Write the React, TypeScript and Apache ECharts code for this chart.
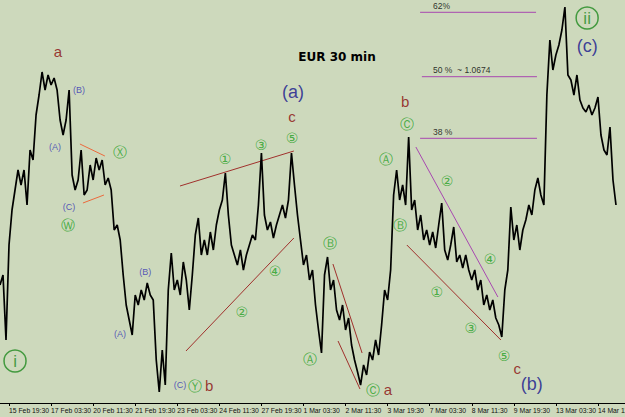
import React, { useEffect, useRef } from "react";
import * as echarts from "echarts";

// ---- data ----
const tickLabels = [
  "15 Feb 19:30", "17 Feb 03:30", "20 Feb 11:30", "21 Feb 19:30", "23 Feb 03:30",
  "24 Feb 11:30", "27 Feb 19:30", "1 Mar 03:30", "2 Mar 11:30", "3 Mar 19:30",
  "7 Mar 03:30", "8 Mar 11:30", "9 Mar 19:30", "13 Mar 03:30", "14 Mar 11:30",
];
const slotCount = 209;
const firstTickSlot = 3;
const slotsPerTick = 14;

const prices = [
  1.05705, 1.05755, 1.0543, 1.05905, 1.0608, 1.0618, 1.0628, 1.06205, 1.0628, 1.06105,
  1.0638, 1.0633, 1.06555, 1.06655, 1.0677, 1.0668, 1.06755, 1.06705, 1.0674, 1.0668,
  1.0653, 1.06455, 1.0653, 1.0668, 1.06255, 1.0618, 1.0623, 1.0638, 1.06155, 1.0618,
  1.06305, 1.0623, 1.0634, 1.0628, 1.0633, 1.06205, 1.0624, 1.0618, 1.0598, 1.06005,
  1.0593, 1.05755, 1.05605, 1.0553, 1.05455, 1.05655, 1.05605, 1.0568, 1.0563, 1.05715,
  1.05655, 1.0563, 1.0533, 1.0517, 1.0538, 1.05205, 1.0568, 1.05865, 1.0568, 1.0573,
  1.05655, 1.0582, 1.0573, 1.0558, 1.05755, 1.05955, 1.0604, 1.05855, 1.0593, 1.05855,
  1.0597, 1.0588, 1.06005, 1.0608, 1.0613, 1.06265, 1.06055, 1.05905, 1.05855, 1.05805,
  1.0588, 1.0578, 1.05855, 1.05905, 1.05955, 1.0593, 1.06105, 1.06365, 1.06055, 1.0598,
  1.0602, 1.0594, 1.06005, 1.06055, 1.06105, 1.0604, 1.0613, 1.06365, 1.06205, 1.06055,
  1.0593, 1.05805, 1.05855, 1.0573, 1.0578, 1.05605, 1.0548, 1.05365, 1.05755, 1.05845,
  1.0568, 1.0573, 1.0558, 1.0553, 1.05605, 1.0548, 1.0554, 1.05405, 1.0533, 1.0527,
  1.05205, 1.05305, 1.05255, 1.0537, 1.0533, 1.0543, 1.05355, 1.05505, 1.0568, 1.0563,
  1.0578, 1.06155, 1.0628, 1.0613, 1.06205, 1.06105, 1.06445, 1.0608, 1.0613, 1.0598,
  1.06055, 1.0593, 1.0598, 1.05905, 1.0597, 1.0589, 1.06005, 1.06115, 1.0588, 1.0583,
  1.05905, 1.05995, 1.0582, 1.05855, 1.0579, 1.05855, 1.0578, 1.0573, 1.0578, 1.0568,
  1.0573, 1.05605, 1.05655, 1.0558, 1.0563, 1.0554, 1.05505, 1.05445, 1.0568, 1.0578,
  1.06095, 1.0593, 1.06005, 1.0588, 1.0598, 1.0603, 1.06105, 1.06055, 1.0618, 1.0624,
  1.06155, 1.06105, 1.06655, 1.0693, 1.0678, 1.06855, 1.06905, 1.0698, 1.07095, 1.06755,
  1.0673, 1.06655, 1.06755, 1.0663, 1.0659, 1.0657, 1.06605, 1.06555, 1.0659, 1.06645,
  1.06455, 1.0638, 1.06355, 1.06495, 1.0623, 1.06105,
];

// annotations: [text, slot, price]
const minorWaves = [
  ["a", 19.3, 1.06875], ["b", 69.6, 1.05205], ["c", 97.2, 1.0655],
  ["a", 129.1, 1.05185], ["b", 134.8, 1.06625], ["c", 172.1, 1.0529],
];
const intermediateWaves = [
  ["(a)", 97.5, 1.0667], ["(b)", 177.0, 1.0521], ["(c)", 195.4, 1.069],
];
const subWaves = [
  ["(B)", 26.3, 1.0668], ["(A)", 18.3, 1.06395], ["(C)", 23.0, 1.06095],
  ["(B)", 48.3, 1.0577], ["(A)", 39.9, 1.0546], ["(C)", 59.9, 1.05205],
];
const circledWaves = [
  ["Ⓧ", 39.9, 1.0637], ["Ⓦ", 22.6, 1.06005], ["Ⓨ", 64.9, 1.052],
  ["①", 74.9, 1.06335], ["③", 86.9, 1.06405], ["⑤", 97.2, 1.0644],
  ["②", 80.5, 1.0557], ["④", 91.5, 1.05775],
  ["Ⓑ", 109.8, 1.05915], ["Ⓐ", 103.2, 1.05335], ["Ⓒ", 124.1, 1.0518],
  ["Ⓐ", 128.5, 1.06335], ["Ⓑ", 133.1, 1.06005], ["Ⓒ", 135.4, 1.0651],
  ["②", 148.8, 1.06225], ["④", 163.1, 1.05835], ["①", 145.4, 1.0567],
  ["③", 156.7, 1.0549], ["⑤", 167.7, 1.0535],
];
const primaryWaves = [
  ["i", 5.0, 1.05325], ["ii", 195.4, 1.0704],
];
const fibLevels = [
  ["62%", 139.8, 178.4, 1.070685, 1.071],
  ["50 %  ~ 1.0674", 140.4, 178.7, 1.067465, 1.0678],
  ["38 %", 139.8, 178.7, 1.064385, 1.0647],
];
const fibLabelSlot = 144.1;
// trend lines: [x1, p1, x2, p2, kind]
const trendLines = [
  [26.6, 1.0641, 34.9, 1.0635, "orange"],
  [27.6, 1.06115, 34.6, 1.06155, "orange"],
  [59.9, 1.062, 97.8, 1.06375, "red"],
  [61.9, 1.05375, 97.8, 1.0594, "red"],
  [110.8, 1.0581, 120.5, 1.05365, "red"],
  [112.5, 1.05425, 119.8, 1.05185, "red"],
  [138.4, 1.06395, 165.7, 1.05645, "purple"],
  [135.4, 1.05905, 166.7, 1.0543, "red"],
];

const lineColors: Record<string, string> = {
  orange: "#ec6a3c",
  red: "#a0302c",
  purple: "#a848b0",
};

function textSeries(items: any[], color: string, fontSize: number, fontFamily: string, extra: any = {}) {
  return {
    type: "scatter",
    xAxisIndex: 1,
    silent: true,
    symbolSize: 1,
    itemStyle: { color: "rgba(0,0,0,0)" },
    data: items.map((d) => ({ name: d[0], value: [d[1], d[2]] })),
    label: {
      show: true,
      position: "inside",
      formatter: "{b}",
      color,
      fontSize,
      fontFamily,
      ...extra,
    },
    z: 5,
  };
}

export default function App() {
  const ref = useRef<HTMLDivElement>(null);
  useEffect(() => {
    document.body.style.margin = "0";
    const chart = echarts.init(ref.current!, null, { renderer: "svg" });
    const categories = Array.from({ length: slotCount }, (_, i) => String(i));
    const showTick = (idx: number) => idx >= firstTickSlot && (idx - firstTickSlot) % slotsPerTick === 0;

    const series: any[] = [
      {
        type: "line",
        data: prices,
        symbol: "none",
        silent: true,
        lineStyle: { color: "#000", width: 1.7 },
        z: 3,
      },
    ];
    trendLines.forEach((t) => {
      series.push({
        type: "line",
        xAxisIndex: 1,
        silent: true,
        symbol: "none",
        data: [[t[0], t[1]], [t[2], t[3]]],
        lineStyle: { color: lineColors[t[4] as string], width: 1 },
        z: 2,
      });
    });
    fibLevels.forEach((f) => {
      series.push({
        type: "line",
        xAxisIndex: 1,
        silent: true,
        symbol: "none",
        data: [[f[1], f[3]], [f[2], f[3]]],
        lineStyle: { color: "#a848b0", width: 1 },
        z: 2,
      });
    });
    series.push(
      textSeries(fibLevels.map((f) => [f[0], fibLabelSlot, f[4]]), "#000", 8.5, "'Liberation Sans', Arial, sans-serif", { align: "left" })
    );
    series.push(textSeries(minorWaves, "#8a0a0a", 15, "'Liberation Sans', Arial, sans-serif"));
    series.push(textSeries(intermediateWaves, "#14148c", 18, "'Liberation Sans', Arial, sans-serif"));
    series.push(textSeries(subWaves, "#3434b4", 9, "'Liberation Sans', Arial, sans-serif"));
    series.push(textSeries(circledWaves, "#25a025", 14, "'DejaVu Sans', sans-serif"));
    series.push({
      type: "scatter",
      xAxisIndex: 1,
      silent: true,
      symbol: "circle",
      symbolSize: 22,
      itemStyle: { color: "rgba(0,0,0,0)", borderColor: "#1f8a1f", borderWidth: 1.5 },
      data: primaryWaves.map((d) => ({ name: d[0], value: [d[1], d[2]] })),
      label: {
        show: true,
        position: "inside",
        formatter: "{b}",
        color: "#1f8a1f",
        fontSize: 17,
        fontFamily: "'Liberation Sans', Arial, sans-serif",
      },
      z: 5,
    });

    chart.setOption({
      animation: false,
      backgroundColor: "#cdd9bc",
      grid: { left: 0, right: 0, top: 0, bottom: 14, containLabel: false, outerBoundsMode: "none" },
      xAxis: [
        {
          type: "category",
          data: categories,
          boundaryGap: false,
          axisLine: { show: true, lineStyle: { color: "#000", width: 1 } },
          axisTick: { show: true, interval: (idx: number) => showTick(idx), length: 3, lineStyle: { color: "#000" } },
          axisLabel: {
            show: true,
            interval: (idx: number) => showTick(idx),
            formatter: (_v: string, idx: number) => tickLabels[(idx - firstTickSlot) / slotsPerTick] ?? "",
            showMinLabel: true,
            showMaxLabel: true,
            hideOverlap: false,
            align: "left",
            margin: 4,
            color: "#111",
            fontSize: 6.8,
            fontFamily: "'Liberation Sans', Arial, sans-serif",
          },
          splitLine: { show: false },
        },
        { type: "value", min: 0, max: slotCount - 1, show: false },
      ],
      yAxis: { type: "value", min: 1.05115, max: 1.0713, show: false, splitLine: { show: false } },
      graphic: [
        {
          type: "text",
          x: 337,
          y: 57,
          style: {
            text: "EUR 30 min",
            fill: "#000",
            font: "bold 12px 'DejaVu Sans', sans-serif",
            align: "center",
            verticalAlign: "middle",
          },
        },
      ],
      series,
    });
    return () => chart.dispose();
  }, []);
  return <div ref={ref} style={{ width: 625, height: 417 }} />;
}
